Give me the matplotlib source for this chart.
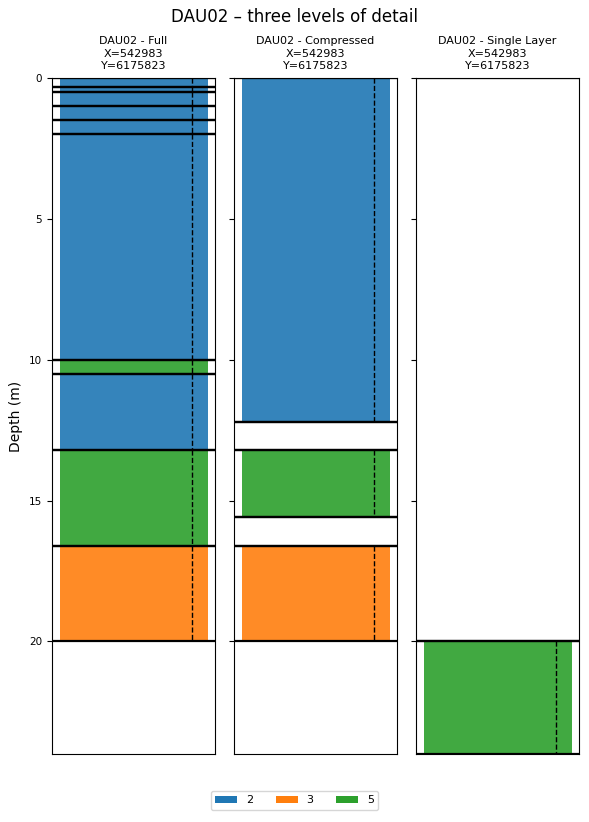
import matplotlib
matplotlib.use("Agg")
import matplotlib.pyplot as plt
from matplotlib.patches import Patch

# Data
full_tops = [0.0, 0.3, 0.5, 1.0, 1.5, 2.0, 10.0, 10.5, 13.2, 16.6]
full_bottoms = [0.3, 0.5, 1.0, 1.5, 2.0, 10.0, 10.5, 13.2, 16.6, 20.0]
full_class = [2, 2, 2, 2, 2, 2, 5, 2, 5, 3]

comp_tops = [0.0, 12.2, 13.2, 15.6, 16.6]
comp_bottoms = [12.2, 13.2, 15.6, 16.6, 20.0]
comp_class = [2, None, 5, None, 3]

single_tops = [0.0, 20.0]
single_bottoms = [20.0, 24.0]
single_class = [None, 5]

titles = ["DAU02 - Full", "DAU02 - Compressed", "DAU02 - Single Layer"]
x_coord = 542983
y_coord = 6175823
legend_classes = [2, 3, 5]
class_colors = {2: "#1f77b4", 3: "#ff7f0e", 5: "#2ca02c"}
yticks = [0, 5, 10, 15, 20]

fig = plt.figure(figsize=(5.89, 8.22), dpi=100)
lefts = [0.0883, 0.397, 0.706]
width = 0.277
bottom = 0.0827
height = 0.905 - 0.0827

panels = [(full_tops, full_bottoms, full_class),
          (comp_tops, comp_bottoms, comp_class),
          (single_tops, single_bottoms, single_class)]

axes = []
for i, (tops, bots, cls) in enumerate(panels):
    ax = fig.add_axes([lefts[i], bottom, width, height])
    axes.append(ax)
    for t, b, c in zip(tops, bots, cls):
        if c is not None:
            ax.fill_betweenx([t, b], 0.05, 0.955, color=class_colors[c], alpha=0.9, linewidth=0)
            ax.plot([0.86, 0.86], [t, b], color="black", linestyle="--", linewidth=1)
        ax.axhline(t, color="black", linewidth=1.6)
        ax.axhline(b, color="black", linewidth=1.6)
    ax.set_xlim(0, 1)
    ax.set_ylim(24, 0)
    ax.set_xticks([])
    ax.set_yticks(yticks)
    ax.tick_params(axis="y", labelsize=7.5)
    if i > 0:
        ax.set_yticklabels([])
    ax.set_title(f"{titles[i]}\nX={x_coord}\nY={y_coord}", fontsize=8, pad=6.5,
                 linespacing=1.32)

axes[0].set_ylabel("Depth (m)", fontsize=10)

fig.suptitle("DAU02 – three levels of detail", fontsize=12, y=0.99)

handles = [Patch(facecolor=class_colors[c], label=str(c)) for c in legend_classes]
fig.legend(handles=handles, loc="lower center", ncol=3, fontsize=8,
           bbox_to_anchor=(0.5, 0.008))

fig.savefig("out.png", dpi=100)
